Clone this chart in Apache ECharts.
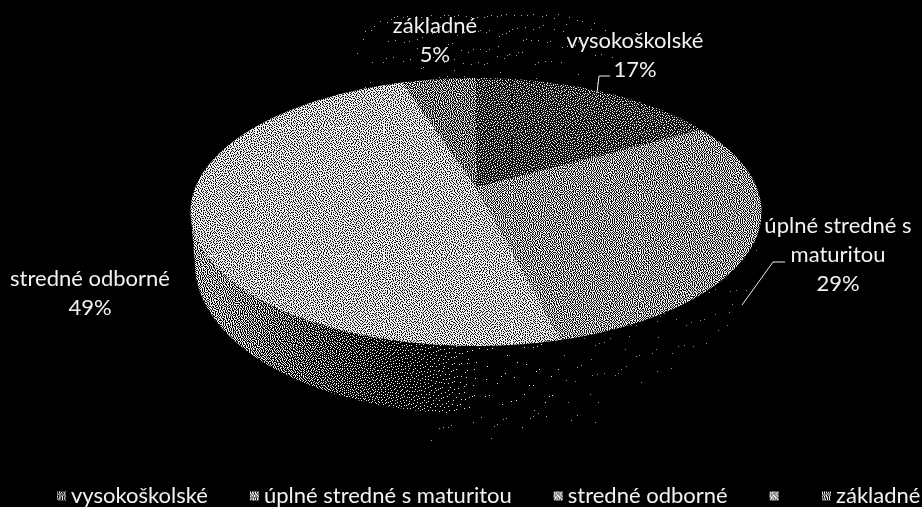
<!DOCTYPE html>
<html>
<head>
<meta charset="utf-8">
<style>html,body{margin:0;padding:0;background:#000}#c{width:922px;height:507px}</style>
<script src="https://cdn.jsdelivr.net/npm/echarts@6/dist/echarts.min.js"></script>
</head>
<body>
<div id="c"></div>
<script>
// ---- data ----
var categories = ['vysokoškolské', 'úplné stredné s maturitou', 'stredné odborné', '\u00a0', 'základné'];
var values = [17, 29, 49, 0, 5];
var labelTexts = ['vysokoškolské\n17%', 'úplné stredné s\nmaturitou\n29%', 'stredné odborné\n49%', '', 'základné\n5%'];

// ---- look ----
var FONT = '22px Lato, "Noto Sans", sans-serif';
var topLevels = [0.24, 0.53, 0.68, 0.6, 0.42];
var legendLevels = [0.45, 0.6, 0.7, 0.7, 0.5];
var labelPos = [[635, 55], [838, 255], [90, 293], null, [435, 40]];
var leaders = [
  [[597, 93], [599, 76], [610, 76]],
  [[742, 305], [773, 262], [785, 262]],
  null, null, null
];

// ---- black and white stipple textures (error diffusion) ----
function hash(x, y) { var s = Math.sin(x * 12.9898 + y * 78.233) * 43758.5453; return s - Math.floor(s); }
function makeDither(w, h, levelFn, onGray, offGray) {
  var hi = onGray === undefined ? 240 : onGray, lo = offGray === undefined ? 15 : offGray;
  var cv = document.createElement('canvas'); cv.width = w; cv.height = h;
  var ctx = cv.getContext('2d'), img = ctx.createImageData(w, h), d = img.data;
  var cur = new Float32Array(w + 2), nxt = new Float32Array(w + 2);
  for (var y = 0; y < h; y++) {
    nxt.fill(0);
    for (var x = 0; x < w; x++) {
      var v = levelFn(x, y) + cur[x + 1];
      var on = v > 0.3 + 0.4 * hash(x, y);
      var out = on ? 1 : 0, err = v - out;
      cur[x + 2] += err * 7 / 16; nxt[x] += err * 3 / 16; nxt[x + 1] += err * 5 / 16; nxt[x + 2] += err / 16;
      var i = (y * w + x) * 4, c = on ? hi : lo;
      d[i] = d[i + 1] = d[i + 2] = c; d[i + 3] = 255;
    }
    var t = cur; cur = nxt; nxt = t;
  }
  ctx.putImageData(img, 0, 0);
  return { image: cv, repeat: 'repeat' };
}
function flat(l) { return makeDither(128, 128, function () { return l; }); }
var topFills = topLevels.map(flat);
var legendFills = legendLevels.map(flat);
var wallFill = makeDither(922, 507, function (x, y) {
  var t = (x - 215) / 265; t = Math.max(0, Math.min(1, t));
  return 0.55 * (1 - t) * (1 - t * 0.3) + 0.006;
}, 240, 0);
var darkWall = makeDither(256, 256, function () { return 0.005; }, 150, 0);

// ---- perspective disc ----
var AX = 476, AY = 187, A = 280.5, B = 129.3, P = 0.1866;
function rim(theta) {
  var u = Math.sin(theta), v = Math.cos(theta), w = 1 + P * v;
  return [AX + A * u / w, AY - B * v / w];
}
function base(theta) {
  var p = rim(theta), v = Math.cos(theta);
  return [AX + (p[0] - AX) * 0.985, p[1] + 46 - 22 * v];
}
var TOTAL = values.reduce(function (a, b) { return a + b; }, 0);
var FRONT_A = Math.atan2(1, -P), FRONT_B = 2 * Math.PI - FRONT_A;

function arcPoints(fn, a0, a1) {
  var n = Math.max(2, Math.ceil(Math.abs(a1 - a0) * 60)), pts = [];
  for (var i = 0; i <= n; i++) pts.push(fn(a0 + (a1 - a0) * i / n));
  return pts;
}

function makeRender(idx) {
  return function (params, api) {
    var val = api.value(0);
    if (!val) return { type: 'group', children: [] };
    var before = 0;
    for (var i = 0; i < idx; i++) before += values[i];
    var a0 = before / TOTAL * 2 * Math.PI, a1 = (before + val) / TOTAL * 2 * Math.PI;
    var kids = [];
    var w0 = Math.max(a0, FRONT_A), w1 = Math.min(a1, FRONT_B);
    if (w1 > w0) {
      kids.push({
        type: 'polygon',
        shape: { points: arcPoints(rim, w0, w1).concat(arcPoints(base, w1, w0)) },
        style: { fill: idx === 2 ? wallFill : darkWall }
      });
    }
    kids.push({
      type: 'polygon',
      shape: { points: [[AX, AY]].concat(arcPoints(rim, a0, a1)) },
      style: { fill: topFills[idx] }
    });
    if (leaders[idx]) {
      kids.push({ type: 'polyline', shape: { points: leaders[idx] }, style: { stroke: '#eee', lineWidth: 1, fill: null } });
    }
    kids.push({
      type: 'text',
      style: {
        text: labelTexts[idx], x: labelPos[idx][0], y: labelPos[idx][1],
        fill: '#f2f2f2', font: FONT, align: 'center', verticalAlign: 'middle', lineHeight: 29
      }
    });
    return { type: 'group', children: kids };
  };
}

function legendPart(left, from, to) {
  return {
    left: left, top: 485, width: 1200, padding: 0, itemWidth: 9, itemHeight: 9, itemGap: 42, icon: 'rect', selectedMode: false,
    textStyle: { color: '#f2f2f2', fontFamily: 'Lato, "Noto Sans", sans-serif', fontSize: 22 },
    data: categories.slice(from, to).map(function (n, i) {
      return { name: n, icon: 'rect', itemStyle: { color: legendFills[from + i] } };
    })
  };
}

var chart = echarts.init(document.getElementById('c'), null, { renderer: 'canvas' });
chart.setOption({
  animation: false,
  backgroundColor: '#000',
  legend: [legendPart(57, 0, 4), legendPart(822, 4, 5)],
  graphic: [{
    type: 'rect', silent: true, z: 0,
    shape: { x: 0, y: 0, width: 922, height: 507 },
    style: {
      fill: makeDither(922, 507, function (x, y) {
        var top = Math.max(0, 1 - Math.abs(x - 480) / 170) * Math.max(0, 1 - y / 110);
        var bot = Math.max(0, 1 - Math.abs(x - 500) / 130) * Math.max(0, 1 - Math.abs(y - 390) / 55);
        return 0.012 * Math.min(1, top * 2) + 0.008 * Math.min(1, bot * 2);
      }, 170, 0)
    }
  }],
  series: categories.map(function (n, i) {
    return {
      type: 'custom', name: n, coordinateSystem: 'none', silent: true,
      itemStyle: { color: legendFills[i] },
      data: [[values[i]]], renderItem: makeRender(i)
    };
  })
});
</script>
</body>
</html>
